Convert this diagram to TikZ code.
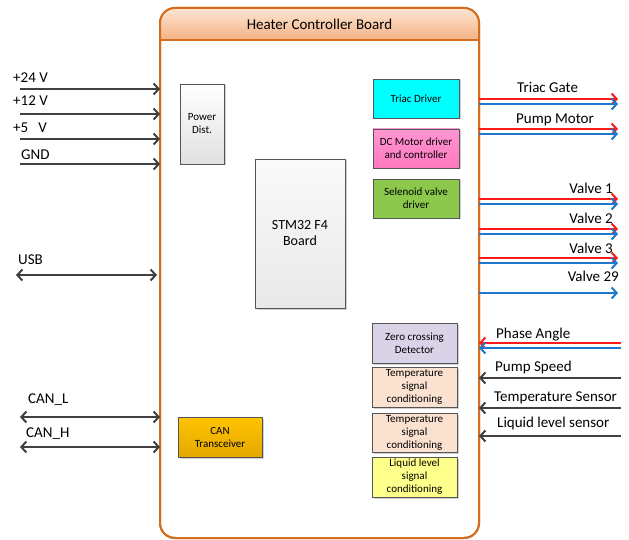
\documentclass[tikz,border=0pt]{standalone}
\usepackage{fontspec}
\setmainfont{Carlito}
\usepackage{xcolor}
\usepackage{tikz}
\usetikzlibrary{
  arrows.meta,
  shadows
}

\definecolor{brdorange}{RGB}{212,110,30}
\definecolor{hdrtop}{RGB}{252,230,212}
\definecolor{hdrbot}{RGB}{244,178,132}
\definecolor{wiregray}{RGB}{64,64,64}
\definecolor{sigred}{RGB}{255,25,25}
\definecolor{sigblue}{RGB}{30,120,205}
\definecolor{boxedge}{RGB}{85,85,85}

\begin{document}
\begin{tikzpicture}[x=1pt, y=-1pt,
  font=\fontsize{15}{18}\selectfont,
  board/.style={draw=brdorange, line width=2pt, rounded corners=15pt, outer sep=0pt,
    fill=white, minimum width=319pt, minimum height=530pt, inner sep=0pt},
  blk/.style={draw=boxedge, line width=0.6pt, align=center, inner sep=1pt,
    font=\fontsize{11}{13}\selectfont,
    drop shadow={shadow xshift=1.5pt, shadow yshift=-1.5pt, opacity=.3, fill=black!60}},
  lbl/.style={anchor=base west, inner sep=0pt},
  rlbl/.style={anchor=base east, inner sep=0pt},
  wire/.style={draw=wiregray, line width=2pt, -{Straight Barb[length=5pt, width=11pt]}},
  biwire/.style={draw=wiregray, line width=2pt, {Straight Barb[length=5pt, width=11pt]}-{Straight Barb[length=5pt, width=11pt]}},
  redwire/.style={wire, draw=sigred},
  bluewire/.style={wire, draw=sigblue}]

  \useasboundingbox (0,0) rectangle (629,540);

  % board with header band
  \node[board] (board) at (319.5,273) {};
  \begin{scope}
    \clip[rounded corners=15pt] (board.north west) rectangle (board.south east);
    \shade[top color=hdrtop, bottom color=hdrbot] (board.north west) rectangle (board.east |- 0,40);
  \end{scope}
  \draw[draw=brdorange, line width=2pt] (board.west |- 0,40) -- (board.east |- 0,40);
  \draw[draw=brdorange, line width=2pt, rounded corners=15pt] (board.north west) rectangle (board.south east);
  \node (title) at (319.5,24) {Heater Controller Board};

  % blocks
  \node[blk, top color=white, bottom color=black!12, minimum width=44pt, minimum height=80pt] (pwr) at (202,124) {Power\\Dist.};
  \node[blk, top color=black!2, bottom color=black!9, minimum width=90pt, minimum height=149pt,
    font=\fontsize{14}{16}\selectfont] (mcu) at (300,233.5) {STM32 F4\\Board};
  \node[blk, fill={rgb,255:red,0;green,255;blue,255}, minimum width=86pt, minimum height=39pt] (triac) at (416,98.5) {Triac Driver};
  \node[blk, top color={rgb,255:red,255;green,150;blue,210}, bottom color={rgb,255:red,255;green,120;blue,190},
    minimum width=86pt, minimum height=39pt] (dcm) at (416,148.5) {DC Motor driver\\and controller};
  \node[blk, fill={rgb,255:red,140;green,200;blue,75}, minimum width=86pt, minimum height=39pt] (sol) at (416,198.5) {Selenoid valve\\driver};
  \node[blk, fill={rgb,255:red,218;green,211;blue,232}, minimum width=85pt, minimum height=40pt] (zcd) at (414.5,343) {Zero crossing\\Detector};
  \node[blk, fill={rgb,255:red,250;green,225;blue,208}, minimum width=85pt, minimum height=40pt] (tsc1) at (414.5,387) {Temperature\\signal\\conditioning};
  \node[blk, fill={rgb,255:red,250;green,225;blue,208}, minimum width=85pt, minimum height=39pt] (tsc2) at (414.5,432.5) {Temperature\\signal\\conditioning};
  \node[blk, fill={rgb,255:red,255;green,255;blue,140}, minimum width=85pt, minimum height=40pt] (llc) at (414.5,477) {Liquid level\\signal\\conditioning};
  \node[blk, top color={rgb,255:red,255;green,196;blue,0}, bottom color={rgb,255:red,228;green,168;blue,0},
    minimum width=84pt, minimum height=40pt] (can) at (220,437) {CAN\\Transceiver};

  % supply and bus lines (left)
  \coordinate (v24) at (20,89);
  \coordinate (v12) at (20,114);
  \coordinate (v5) at (20,139);
  \coordinate (gnd) at (20,164);
  \coordinate (usb) at (16,275);
  \coordinate (canl) at (20,417);
  \coordinate (canh) at (20,447);
  \draw[wire] (v24) -- (v24 -| board.west);
  \draw[wire] (v12) -- (v12 -| board.west);
  \draw[wire] (v5) -- (v5 -| board.west);
  \draw[wire] (gnd) -- (gnd -| board.west);
  \draw[biwire] (usb) -- ([xshift=-3pt]usb -| board.west);
  \draw[biwire] (canl) -- (canl -| board.west);
  \draw[biwire] (canh) -- (canh -| board.west);
  \node[lbl] (v24lbl) at (13,83) {+24 V};
  \node[lbl] (v12lbl) at (13,106) {+12 V};
  \node[lbl] (v5lbl) at (13,133) {+5\ \ \ V};
  \node[lbl] (gndlbl) at (21,160) {GND};
  \node[lbl] (usblbl) at (18,264) {USB};
  \node[lbl] (canllbl) at (28,403) {CAN\_L};
  \node[lbl] (canhlbl) at (26,437) {CAN\_H};

  % outputs (right)
  \coordinate (tgR) at (618,99);
  \coordinate (tgB) at (618,104);
  \coordinate (pmR) at (618,129);
  \coordinate (pmB) at (618,134);
  \draw[redwire] (board.east |- tgR) -- (tgR);
  \draw[bluewire] (board.east |- tgB) -- (tgB);
  \draw[redwire] (board.east |- pmR) -- (pmR);
  \draw[bluewire] (board.east |- pmB) -- (pmB);
  \node[lbl] (tglbl) at (517,93) {Triac Gate};
  \node[lbl] (pmlbl) at (516,124) {Pump Motor};
  \foreach \v/\y in {1/199, 2/229, 3/258} {
    \coordinate (vR\v) at (618,\y);
    \coordinate (vB\v) at (618,\y+5);
    \draw[redwire] (board.east |- vR\v) -- (vR\v);
    \draw[bluewire] (board.east |- vB\v) -- (vB\v);
    \node[rlbl] (vlbl\v) at (613,\y-5) {Valve \v};
  }
  \coordinate (vB29) at (618,293);
  \draw[bluewire] (board.east |- vB29) -- (vB29);
  \node[rlbl] (vlbl29) at (619,281) {Valve 29};

  % inputs (right)
  \coordinate (paR) at (621,343);
  \coordinate (paB) at (621,348);
  \coordinate (psp) at (621,378);
  \coordinate (tsn) at (621,408);
  \coordinate (lls) at (621,436);
  \draw[redwire] (paR) -- (paR -| board.east);
  \draw[bluewire] (paB) -- (paB -| board.east);
  \draw[wire] (psp) -- (psp -| board.east);
  \draw[wire] (tsn) -- (tsn -| board.east);
  \draw[wire] (lls) -- (lls -| board.east);
  \node[lbl] (palbl) at (496,338) {Phase Angle};
  \node[lbl] (psplbl) at (495,371) {Pump Speed};
  \node[lbl] (tsnlbl) at (494,401) {Temperature Sensor};
  \node[lbl] (llslbl) at (497,427) {Liquid level sensor};
\end{tikzpicture}
\end{document}
